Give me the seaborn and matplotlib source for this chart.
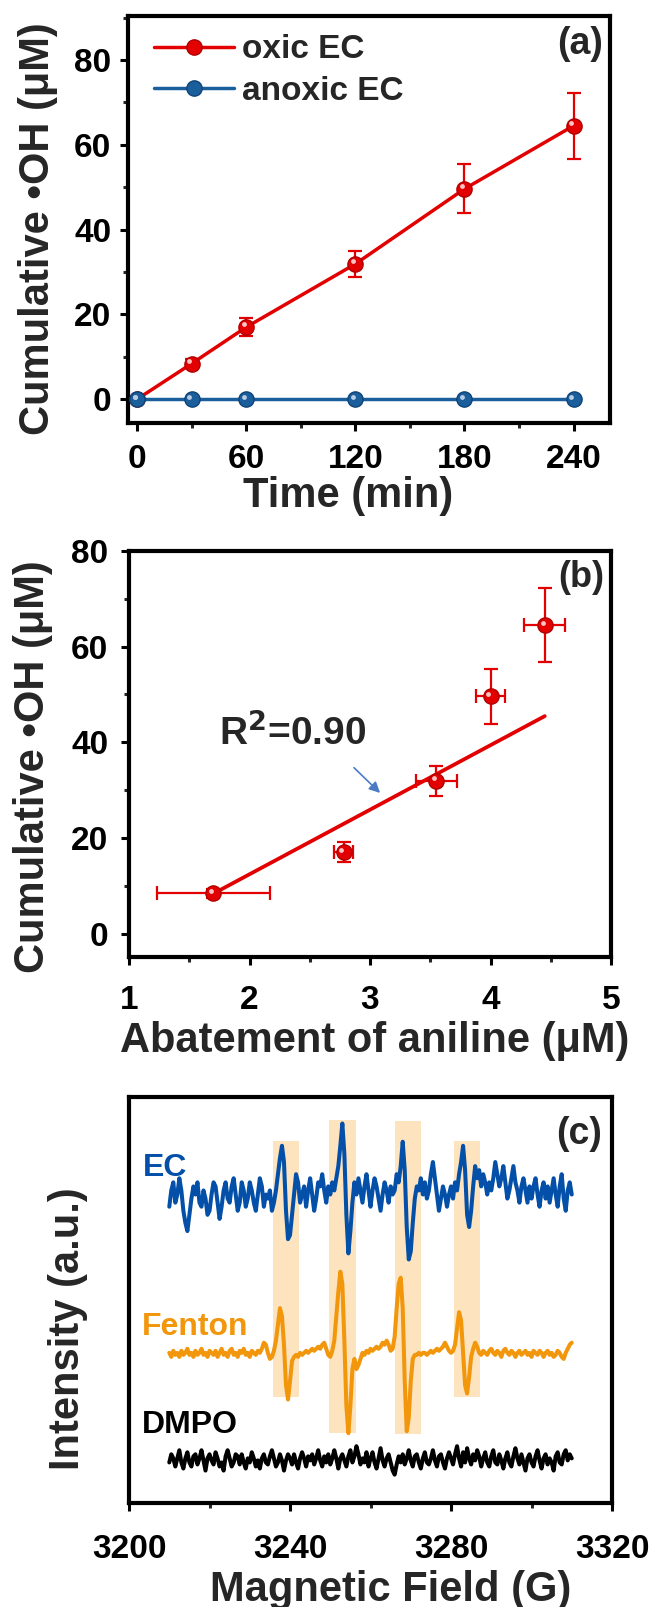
import numpy as np
import matplotlib
matplotlib.use("Agg")
import matplotlib.pyplot as plt
from matplotlib.transforms import offset_copy
from matplotlib.ticker import MultipleLocator, NullLocator
import seaborn as sns

# ---------------- data ----------------
# (a) cumulative hydroxyl radical vs time
time_min = [0, 30, 60, 120, 180, 240]
oxic_oh = [0, 8.4, 17.0, 31.9, 49.6, 64.5]
oxic_err = [0, 1.0, 2.1, 3.1, 5.8, 7.8]
anoxic_oh = [0, 0, 0, 0, 0, 0]

# (b) cumulative hydroxyl radical vs aniline abatement
aniline = [1.70, 2.78, 3.55, 4.00, 4.45]
aniline_err = [0.47, 0.08, 0.17, 0.12, 0.17]
oh_b = [8.4, 17.0, 31.9, 49.6, 64.5]
oh_b_err = [1.0, 2.1, 3.1, 5.8, 7.8]
fit_slope = 13.5
fit_intercept = -14.6
r2_value = 0.90

# (c) EPR spectra, 0.5 G steps from 3210 G to 3310 G
field = np.arange(3210, 3310.01, 0.5)
ec_signal = [
    73, 77, 79, 74, 76, 80, 77, 72, 69, 67, 71, 75, 78, 76, 79, 74, 73, 77, 75, 71,
    72, 76, 79, 78, 74, 70, 73, 77, 79, 75, 74, 78, 80, 76, 72, 74, 79, 77, 73, 75,
    79, 77, 74, 72, 76, 80, 78, 73, 76, 75, 77, 72, 74, 77, 81, 85, 88, 84, 72, 65,
    66, 71, 76, 81, 79, 74, 76, 78, 73, 77, 80, 76, 72, 75, 79, 78, 81, 77, 74, 78,
    76, 79, 77, 80, 83, 88, 93.5, 86, 71, 61.5, 67, 74, 79, 76, 80, 77, 74, 78, 81, 77,
    73, 77, 80, 78, 75, 72, 76, 79, 77, 74, 78, 76, 77, 81, 79, 83, 89, 82, 68, 60,
    62, 69, 75, 78, 77, 80, 76, 79, 75, 77, 81, 84, 80, 76, 72, 75, 78, 76, 73, 76,
    78, 75, 79, 77, 81, 84, 88, 82, 71, 68, 72, 78, 83, 80, 82, 78, 81, 79, 76, 79,
    77, 80, 84, 81, 78, 80, 83, 79, 75, 77, 80, 83, 79, 77, 74, 78, 80, 77, 74, 78,
    75, 78, 80, 76, 73, 77, 79, 75, 78, 74, 77, 80, 76, 73, 78, 81, 75, 72, 77, 79,
    76,
]
fenton_signal = [
    37, 36, 37.5, 36.5, 37, 36, 37.5, 36.5, 37, 38, 36.5, 37, 36, 37.5, 36.5, 37, 38, 36.5, 37, 36,
    37.5, 37, 36.5, 37.5, 36, 37, 38, 36.5, 37, 36, 37.5, 38, 36.5, 37, 36, 37.5, 37, 38, 36.5, 37,
    36, 37.5, 37, 36.5, 37.5, 37, 38, 39.5, 39, 37, 35.5, 36, 37.5, 40, 44, 48, 46, 39, 29, 25.5,
    30, 35, 36, 36.5, 36, 37, 36.5, 37, 37.5, 37, 37.5, 38, 37.5, 38, 38.5, 38, 39, 39.5, 38, 36.5,
    36, 37.5, 40, 46, 52, 57, 54, 40, 24, 17.2, 24, 33, 35.5, 33, 34, 35.5, 37, 36.5, 37.5, 37,
    38, 37.5, 38, 38.5, 38, 38.5, 39.5, 39, 40, 39, 37.5, 38, 41, 48, 54, 55.5, 48, 30, 17.7, 21,
    30, 35.5, 36.5, 36.5, 37, 36.5, 37, 37, 36.5, 37, 37.5, 37, 37.5, 38, 37.5, 38, 38.5, 39.5, 38.5, 37.5,
    37, 37.5, 39, 43, 47, 45, 37, 29, 27, 31, 36, 38, 39.5, 38.5, 37, 36.5, 37.5, 37, 36.5, 37.5,
    38, 37, 36.5, 37.5, 37, 36, 37.5, 38, 37, 36.5, 37.5, 37, 36, 37, 37.5, 36.5, 37, 37.5, 36.5, 37,
    36, 37.5, 37, 36.5, 37.5, 37, 36, 37, 37.5, 36.5, 37, 36, 36.5, 37.5, 37, 36, 35.5, 37, 38, 39,
    39.5,
]
dmpo_signal = [
    10, 12, 11, 9, 11, 13, 10, 8.5, 11, 12.5, 10, 9, 11.5, 12, 9.5, 11, 13, 10.5, 8, 11,
    12, 10.5, 9.5, 12.5, 11, 9, 10, 8, 11.5, 13, 11, 9, 10, 12, 11.5, 9.5, 12, 10, 8.5, 11,
    10, 12.5, 11, 9, 10.5, 8.5, 11, 12, 10, 9.5, 11.5, 13, 11, 9, 10, 12, 10.5, 8, 10.5, 12,
    11, 9.5, 12, 10, 8.5, 11, 12.5, 11, 9, 11.5, 10.5, 12, 9.5, 11, 13, 10.5, 9, 11.5, 10, 12,
    9.5, 11, 13, 11, 8.5, 11, 12, 10.5, 9, 11.5, 13, 10, 11.5, 14, 12, 9.5, 11, 10, 12.5, 9,
    11, 12.5, 10, 8.5, 11, 13.5, 10.5, 9, 11, 12, 10, 8, 7, 9.5, 11.5, 10, 12, 9.5, 11, 13,
    10.5, 9, 11.5, 12, 10, 8.5, 11, 12.5, 10, 9.5, 11, 13, 10.5, 9, 11.5, 12, 10, 8.5, 11, 12.5,
    11, 9.5, 12, 14, 11, 9, 12.5, 10, 13.5, 11, 9.5, 12, 10.5, 13, 11.5, 9, 11, 12.5, 10, 9,
    11.5, 13, 10, 9.5, 12, 10.5, 8.5, 11, 12.5, 10, 9, 11.5, 13.5, 11, 9.5, 12, 10, 8, 11, 12,
    10, 9, 11.5, 13, 10.5, 8.5, 11, 12, 9.5, 11, 10, 8, 11.5, 12.5, 10, 9.5, 12, 13, 10.5, 12,
    11,
]
# highlighted hyperfine lines (field range and vertical extent)
band_lo = [3235.8, 3249.8, 3266.0, 3280.7]
band_hi = [3242.3, 3256.3, 3272.5, 3287.2]
band_bottom = [26.1, 17.2, 17.0, 26.1]
band_top = [89.2, 94.3, 94.0, 89.2]

# ---------------- style ----------------
sns.set_theme(style="ticks")
plt.rcParams["font.family"] = ["Liberation Sans", "DejaVu Sans"]
plt.rcParams["font.weight"] = "bold"
plt.rcParams["axes.labelweight"] = "bold"
plt.rcParams["axes.linewidth"] = 3.0
plt.rcParams["xtick.direction"] = "out"
plt.rcParams["ytick.direction"] = "out"

RED = "#E30000"
RED_DARK = "#B00000"
BLUE = "#1A5E9C"
BLUE_DARK = "#0E4377"
EC_BLUE = "#0450A8"
ORANGE = "#F2960C"
BAND = "#FDE3BE"

TICK_FS = 24
LABEL_FS = 30

fig = plt.figure(figsize=(6.51, 16.07), dpi=100)
ax_a = fig.add_axes([0.1966, 0.7368, 0.7404, 0.2533])
ax_b = fig.add_axes([0.1982, 0.4045, 0.7404, 0.2526])
ax_c = fig.add_axes([0.1982, 0.0647, 0.7419, 0.2526])


def style_axis(ax, xpad, ypad):
    for s in ax.spines.values():
        s.set_linewidth(3.0)
        s.set_color("black")
    ax.tick_params(which="major", length=6, width=2.2, labelsize=TICK_FS,
                   colors="black", top=False, right=False)
    ax.tick_params(which="minor", length=3.5, width=2.2, top=False, right=False)
    ax.tick_params(axis="x", which="major", pad=xpad)
    ax.tick_params(axis="y", which="major", pad=ypad)
    for t in ax.get_xticklabels() + ax.get_yticklabels():
        t.set_fontweight("bold")


def glossy(ax, x, y, face, edge, shine, size=120):
    sns.scatterplot(x=x, y=y, ax=ax, s=size, color=face, edgecolor=edge,
                    linewidth=1.0, zorder=5, legend=False)
    tr = offset_copy(ax.transData, fig=fig, x=-1.6, y=1.9, units="points")
    ax.scatter(x, y, s=12, color=shine, linewidths=0, zorder=6, transform=tr)


# ---------------- (a) ----------------
ax = ax_a
ax.errorbar(time_min, oxic_oh, yerr=oxic_err, fmt="none", ecolor=RED,
            elinewidth=1.6, capsize=5, capthick=1.6, zorder=3)
sns.lineplot(x=time_min, y=oxic_oh, ax=ax, color=RED, lw=2.5, zorder=4,
             estimator=None, sort=False)
glossy(ax, time_min, oxic_oh, RED, RED_DARK, "#FFC4C4")
sns.lineplot(x=time_min, y=anoxic_oh, ax=ax, color=BLUE, lw=2.5, zorder=4,
             estimator=None, sort=False)
glossy(ax, time_min, anoxic_oh, BLUE, BLUE_DARK, "#B8CCE4")

h_ox, = ax.plot([], [], color=RED, lw=2.5, marker="o", ms=11,
                mfc=RED, mec=RED_DARK, mew=1.0)
h_an, = ax.plot([], [], color=BLUE, lw=2.5, marker="o", ms=11,
                mfc=BLUE, mec=BLUE_DARK, mew=1.0)
leg = ax.legend([h_ox, h_an], ["oxic EC", "anoxic EC"], loc="upper left",
                bbox_to_anchor=(0.054, 0.955), frameon=False, borderpad=0,
                borderaxespad=0, handlelength=2.4, handletextpad=0.25,
                labelspacing=0.32, prop={"size": 24, "weight": "bold"})

ax.set_xlim(-5, 260)
ax.set_ylim(-5.6, 90.4)
ax.xaxis.set_major_locator(MultipleLocator(60))
ax.xaxis.set_minor_locator(MultipleLocator(30))
ax.yaxis.set_major_locator(MultipleLocator(20))
ax.yaxis.set_minor_locator(MultipleLocator(10))
ax.set_xlabel("Time (min)", fontsize=LABEL_FS, fontweight="bold")
ax.set_ylabel("Cumulative •OH (μM)", fontsize=LABEL_FS, fontweight="bold")
ax.xaxis.set_label_coords(0.456, -0.18)
ax.xaxis.label.set_va("center")
ax.yaxis.set_label_coords(-0.187, 0.477)
ax.yaxis.label.set_va("center")
ax.text(0.985, 0.93, "(a)", transform=ax.transAxes, ha="right", va="center",
        fontsize=27, fontweight="bold")
style_axis(ax, xpad=9, ypad=6)

# ---------------- (b) ----------------
ax = ax_b
ax.errorbar(aniline, oh_b, xerr=aniline_err, yerr=oh_b_err, fmt="none",
            ecolor=RED, elinewidth=1.6, capsize=5, capthick=1.6, zorder=3)
fit_x = np.array([min(aniline), max(aniline)])
sns.lineplot(x=fit_x, y=fit_slope * fit_x + fit_intercept, ax=ax, color=RED,
             lw=2.7, zorder=4, estimator=None, sort=False)
glossy(ax, aniline, oh_b, RED, RED_DARK, "#FFC4C4")
ax.annotate("", xy=(3.10, 29.0), xytext=(2.85, 35.1),
            arrowprops=dict(arrowstyle="-|>", color="#4A7CC6", lw=1.2,
                            mutation_scale=16))
ax.text(2.36, 41.9, f"R$^{{2}}$={r2_value:.2f}", ha="center", va="center",
        fontsize=28, fontweight="bold")
ax.set_xlim(1, 5)
ax.set_ylim(-4.9, 80)
ax.xaxis.set_major_locator(MultipleLocator(1))
ax.xaxis.set_minor_locator(MultipleLocator(0.5))
ax.yaxis.set_major_locator(MultipleLocator(20))
ax.yaxis.set_minor_locator(MultipleLocator(10))
ax.set_xlabel("Abatement of aniline (μM)", fontsize=LABEL_FS, fontweight="bold")
ax.set_ylabel("Cumulative •OH (μM)", fontsize=LABEL_FS, fontweight="bold")
ax.xaxis.set_label_coords(0.51, -0.207)
ax.xaxis.label.set_va("center")
ax.yaxis.set_label_coords(-0.199, 0.468)
ax.yaxis.label.set_va("center")
ax.text(0.985, 0.935, "(b)", transform=ax.transAxes, ha="right", va="center",
        fontsize=26, fontweight="bold")
style_axis(ax, xpad=14, ypad=9)

# ---------------- (c) ----------------
ax = ax_c
centers = [(lo + hi) / 2 for lo, hi in zip(band_lo, band_hi)]
widths = [hi - lo for lo, hi in zip(band_lo, band_hi)]
heights = [t - b for b, t in zip(band_bottom, band_top)]
ax.bar(centers, heights, width=widths, bottom=band_bottom, color=BAND,
       linewidth=0, zorder=0)
for sig, col in [(ec_signal, EC_BLUE), (fenton_signal, ORANGE),
                 (dmpo_signal, "black")]:
    sns.lineplot(x=field, y=sig, ax=ax, color=col, lw=2.9, zorder=3,
                 estimator=None, sort=False)
ax.text(3203.5, 82.5, "EC", color=EC_BLUE, fontsize=23, fontweight="bold",
        ha="left", va="center")
ax.text(3203.3, 43.4, "Fenton", color=ORANGE, fontsize=23, fontweight="bold",
        ha="left", va="center")
ax.text(3203.3, 19.2, "DMPO", color="black", fontsize=23, fontweight="bold",
        ha="left", va="center")
ax.text(0.98, 0.91, "(c)", transform=ax.transAxes, ha="right", va="center",
        fontsize=27, fontweight="bold")
ax.set_xlim(3200, 3320)
ax.set_ylim(0, 100)
ax.xaxis.set_major_locator(MultipleLocator(40))
ax.xaxis.set_minor_locator(MultipleLocator(20))
ax.yaxis.set_major_locator(NullLocator())
ax.yaxis.set_minor_locator(NullLocator())
ax.set_xlabel("Magnetic Field (G)", fontsize=LABEL_FS, fontweight="bold")
ax.set_ylabel("Intensity (a.u.)", fontsize=LABEL_FS, fontweight="bold")
ax.xaxis.set_label_coords(0.542, -0.214)
ax.xaxis.label.set_va("center")
ax.yaxis.set_label_coords(-0.126, 0.43)
ax.yaxis.label.set_va("center")
style_axis(ax, xpad=16, ypad=6)

fig.savefig("out.png", dpi=100)
